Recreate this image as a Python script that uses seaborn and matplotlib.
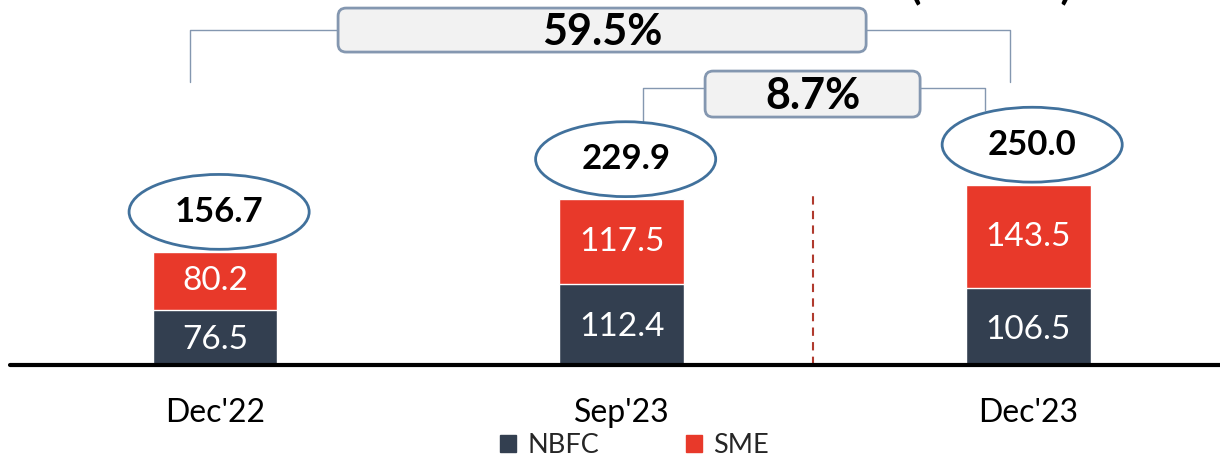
import matplotlib
matplotlib.use('Agg')
import matplotlib.pyplot as plt
import seaborn as sns
import pandas as pd
from matplotlib.patches import Ellipse, FancyBboxPatch, Patch

# data
periods = ["Dec'22", "Sep'23", "Dec'23"]
nbfc = [76.5, 112.4, 106.5]
sme = [80.2, 117.5, 143.5]
totals = [156.7, 229.9, 250.0]
growth_labels = ["59.5%", "8.7%"]

NBFC_COLOR = "#333F50"
SME_COLOR = "#E8392A"
ELL_EDGE = "#41719C"
BOX_EDGE = "#8497B0"

sns.set_theme(style="white")
plt.rcParams['font.family'] = ['Lato', 'DejaVu Sans']

df = pd.DataFrame({"period": periods, "nbfc": nbfc, "sme": sme, "total": totals})

fig = plt.figure(figsize=(12.2, 4.59), dpi=100)
ax = fig.add_axes([0, 0.2048, 1, 0.7952])

# stacked bars: total (SME colour) with NBFC drawn over it
sns.barplot(data=df, x="period", y="total", color=SME_COLOR, saturation=1,
            width=0.307, ax=ax, order=periods)
sns.barplot(data=df, x="period", y="nbfc", color=NBFC_COLOR, saturation=1,
            width=0.307, ax=ax, order=periods)

ax.set_xlim(-0.529, 2.472)
ax.set_ylim(0, 507)
ax.axis("off")

# baseline
ax.axhline(0, xmin=10 / 1220, xmax=1, color="black", lw=3, clip_on=False, zorder=5)

# separator
ax.plot([1.47, 1.47], [0, 243], color="#B03A2E", lw=1.5, ls=(0, (4, 3)))

for i, p in enumerate(periods):
    ax.text(i, nbfc[i] / 2 - 4, f"{nbfc[i]:.1f}", ha="center", va="center",
            color="white", fontsize=24)
    ax.text(i, nbfc[i] + sme[i] / 2, f"{sme[i]:.1f}", ha="center", va="center",
            color="white", fontsize=24)
    # total in ellipse
    cy = totals[i] + 56
    ax.add_patch(Ellipse((i + 0.01, cy), 0.443, 104, facecolor="white",
                         edgecolor=ELL_EDGE, lw=2, zorder=4))
    ax.text(i + 0.01, cy, f"{totals[i]:.1f}", ha="center", va="center",
            fontsize=25, fontweight="bold", color="black", zorder=6)
    ax.text(i, -66.7, p, ha="center", va="center", fontsize=23, color="black",
            clip_on=False)


def growth_box(x0, x1, y0, y1, label):
    ax.add_patch(FancyBboxPatch((x0, y0), x1 - x0, y1 - y0,
                                boxstyle="round,pad=0,rounding_size=0.02",
                                mutation_aspect=555, facecolor="#F2F2F2",
                                edgecolor=BOX_EDGE, lw=2, zorder=5, clip_on=False))
    ax.text((x0 + x1) / 2, (y0 + y1) / 2 - 3, label, ha="center", va="center",
            fontsize=31, fontweight="bold", color="black", zorder=6, clip_on=False)


# Dec'22 -> Dec'23 bracket
ax.plot([-0.0615, -0.0615, 1.956, 1.956], [393, 465.3, 465.3, 393],
        color=BOX_EDGE, lw=1, clip_on=False, zorder=3)
growth_box(0.3026, 1.6015, 434.7, 495.8, growth_labels[0])

# Sep'23 -> Dec'23 bracket
ax.plot([1.053, 1.053, 1.894, 1.894],
        [totals[1] + 56 + 48, 384.7, 384.7, totals[2] + 56 + 48],
        color=BOX_EDGE, lw=1, clip_on=False, zorder=3)
growth_box(1.2054, 1.7343, 344.4, 408.3, growth_labels[1])

# title (cut off at the top edge, only the bottom of the brackets shows)
fig.text(0.812, 1 - 5 / 459, "(₹ Crore)", ha="center", va="bottom",
         fontsize=30, fontweight="bold", color="black")

handles = [Patch(color=NBFC_COLOR, label="NBFC"), Patch(color=SME_COLOR, label="SME")]
fig.legend(handles=handles, loc="center", bbox_to_anchor=(0.52, 0.03), ncol=2,
           frameon=False, fontsize=19.5, handlelength=0.6, handleheight=0.6,
           handletextpad=0.4, columnspacing=3.2)

plt.savefig("out.png", dpi=100)
plt.close()
